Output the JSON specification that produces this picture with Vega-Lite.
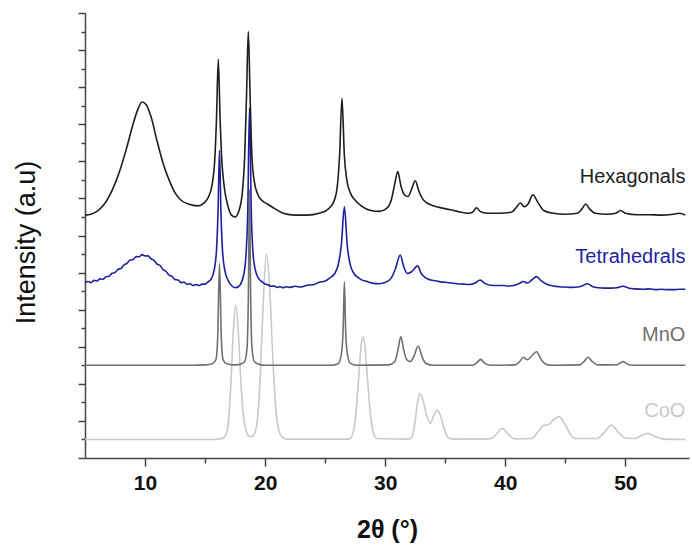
{
  "$schema": "https://vega.github.io/schema/vega-lite/v6.json",
  "width": 604,
  "height": 445,
  "autosize": {"type": "none"},
  "padding": {"left": 85, "top": 13, "right": 3, "bottom": 87},
  "config": {"view": {"stroke": null}, "font": "Liberation Sans"},
  "datasets": {
    "xrd": [
      {"s":"CoO","t":5.0,"i":1.0},{"s":"CoO","t":15.5,"i":1.0},{"s":"CoO","t":16.3,"i":1.03},{"s":"CoO","t":16.7,"i":1.2},{"s":"CoO","t":16.95,"i":2.0},{"s":"CoO","t":17.15,"i":4.0},{"s":"CoO","t":17.35,"i":6.8},{"s":"CoO","t":17.55,"i":8.25},{"s":"CoO","t":17.75,"i":7.0},{"s":"CoO","t":17.95,"i":4.5},{"s":"CoO","t":18.15,"i":2.5},{"s":"CoO","t":18.4,"i":1.5},{"s":"CoO","t":18.65,"i":1.18},{"s":"CoO","t":18.85,"i":1.15},{"s":"CoO","t":19.1,"i":1.3},{"s":"CoO","t":19.35,"i":2.0},{"s":"CoO","t":19.6,"i":4.5},{"s":"CoO","t":19.85,"i":8.5},{"s":"CoO","t":20.1,"i":11.0},{"s":"CoO","t":20.35,"i":9.5},{"s":"CoO","t":20.6,"i":6.0},{"s":"CoO","t":20.85,"i":3.0},{"s":"CoO","t":21.1,"i":1.6},{"s":"CoO","t":21.4,"i":1.15},{"s":"CoO","t":21.8,"i":1.02},{"s":"CoO","t":27.0,"i":1.02},{"s":"CoO","t":27.3,"i":1.3},{"s":"CoO","t":27.55,"i":2.3},{"s":"CoO","t":27.8,"i":4.4},{"s":"CoO","t":28.0,"i":6.1},{"s":"CoO","t":28.15,"i":6.54},{"s":"CoO","t":28.3,"i":6.1},{"s":"CoO","t":28.5,"i":4.5},{"s":"CoO","t":28.75,"i":2.5},{"s":"CoO","t":29.0,"i":1.4},{"s":"CoO","t":29.3,"i":1.05},{"s":"CoO","t":31.9,"i":1.02},{"s":"CoO","t":32.2,"i":1.1},{"s":"CoO","t":32.45,"i":1.8},{"s":"CoO","t":32.7,"i":3.0},{"s":"CoO","t":32.9,"i":3.49},{"s":"CoO","t":33.15,"i":3.1},{"s":"CoO","t":33.45,"i":2.3},{"s":"CoO","t":33.75,"i":1.87},{"s":"CoO","t":34.05,"i":2.3},{"s":"CoO","t":34.35,"i":2.59},{"s":"CoO","t":34.65,"i":2.2},{"s":"CoO","t":34.95,"i":1.5},{"s":"CoO","t":35.25,"i":1.1},{"s":"CoO","t":35.6,"i":1.02},{"s":"CoO","t":38.6,"i":1.03},{"s":"CoO","t":39.2,"i":1.25},{"s":"CoO","t":39.75,"i":1.6},{"s":"CoO","t":40.3,"i":1.25},{"s":"CoO","t":40.8,"i":1.03},{"s":"CoO","t":42.2,"i":1.05},{"s":"CoO","t":42.7,"i":1.4},{"s":"CoO","t":43.2,"i":1.75},{"s":"CoO","t":43.6,"i":1.8},{"s":"CoO","t":44.0,"i":2.05},{"s":"CoO","t":44.45,"i":2.23},{"s":"CoO","t":44.9,"i":1.9},{"s":"CoO","t":45.4,"i":1.3},{"s":"CoO","t":45.9,"i":1.05},{"s":"CoO","t":47.6,"i":1.05},{"s":"CoO","t":48.2,"i":1.35},{"s":"CoO","t":48.85,"i":1.78},{"s":"CoO","t":49.4,"i":1.4},{"s":"CoO","t":50.0,"i":1.08},{"s":"CoO","t":50.8,"i":1.05},{"s":"CoO","t":51.3,"i":1.2},{"s":"CoO","t":51.9,"i":1.33},{"s":"CoO","t":52.5,"i":1.15},{"s":"CoO","t":53.2,"i":1.02},{"s":"CoO","t":55.0,"i":1.0},

      {"s":"MnO","t":5.0,"i":5.0},{"s":"MnO","t":14.0,"i":5.0},{"s":"MnO","t":15.0,"i":5.02},{"s":"MnO","t":15.6,"i":5.08},{"s":"MnO","t":15.9,"i":5.3},{"s":"MnO","t":16.05,"i":6.5},{"s":"MnO","t":16.2,"i":10.5},{"s":"MnO","t":16.35,"i":6.5},{"s":"MnO","t":16.5,"i":5.3},{"s":"MnO","t":16.8,"i":5.08},{"s":"MnO","t":17.3,"i":5.02},{"s":"MnO","t":17.9,"i":5.05},{"s":"MnO","t":18.3,"i":5.2},{"s":"MnO","t":18.5,"i":6.0},{"s":"MnO","t":18.6,"i":8.5},{"s":"MnO","t":18.7,"i":14.5},{"s":"MnO","t":18.8,"i":8.5},{"s":"MnO","t":18.9,"i":6.0},{"s":"MnO","t":19.1,"i":5.2},{"s":"MnO","t":19.5,"i":5.05},{"s":"MnO","t":20.0,"i":5.0},{"s":"MnO","t":25.5,"i":5.0},{"s":"MnO","t":26.1,"i":5.1},{"s":"MnO","t":26.35,"i":5.6},{"s":"MnO","t":26.5,"i":7.0},{"s":"MnO","t":26.6,"i":9.5},{"s":"MnO","t":26.7,"i":7.0},{"s":"MnO","t":26.85,"i":5.6},{"s":"MnO","t":27.1,"i":5.1},{"s":"MnO","t":27.6,"i":5.0},{"s":"MnO","t":30.3,"i":5.02},{"s":"MnO","t":30.8,"i":5.2},{"s":"MnO","t":31.05,"i":5.8},{"s":"MnO","t":31.3,"i":6.54},{"s":"MnO","t":31.55,"i":5.8},{"s":"MnO","t":31.8,"i":5.3},{"s":"MnO","t":32.1,"i":5.2},{"s":"MnO","t":32.4,"i":5.5},{"s":"MnO","t":32.75,"i":6.04},{"s":"MnO","t":33.1,"i":5.4},{"s":"MnO","t":33.4,"i":5.1},{"s":"MnO","t":34.0,"i":5.0},{"s":"MnO","t":37.3,"i":5.0},{"s":"MnO","t":37.65,"i":5.15},{"s":"MnO","t":37.95,"i":5.32},{"s":"MnO","t":38.3,"i":5.1},{"s":"MnO","t":38.8,"i":5.0},{"s":"MnO","t":40.8,"i":5.02},{"s":"MnO","t":41.2,"i":5.2},{"s":"MnO","t":41.5,"i":5.43},{"s":"MnO","t":41.85,"i":5.3},{"s":"MnO","t":42.2,"i":5.5},{"s":"MnO","t":42.6,"i":5.73},{"s":"MnO","t":43.0,"i":5.3},{"s":"MnO","t":43.4,"i":5.05},{"s":"MnO","t":44.0,"i":5.0},{"s":"MnO","t":46.2,"i":5.02},{"s":"MnO","t":46.55,"i":5.2},{"s":"MnO","t":46.9,"i":5.43},{"s":"MnO","t":47.25,"i":5.2},{"s":"MnO","t":47.7,"i":5.02},{"s":"MnO","t":49.3,"i":5.03},{"s":"MnO","t":49.8,"i":5.2},{"s":"MnO","t":50.3,"i":5.03},{"s":"MnO","t":51.0,"i":5.0},{"s":"MnO","t":55.0,"i":5.0},

      {"s":"Tetrahedrals","t":5.0,"i":9.45},{"s":"Tetrahedrals","t":5.25,"i":9.52},{"s":"Tetrahedrals","t":5.5,"i":9.46},{"s":"Tetrahedrals","t":5.75,"i":9.58},{"s":"Tetrahedrals","t":6.0,"i":9.55},{"s":"Tetrahedrals","t":6.25,"i":9.66},{"s":"Tetrahedrals","t":6.5,"i":9.64},{"s":"Tetrahedrals","t":6.75,"i":9.78},{"s":"Tetrahedrals","t":7.0,"i":9.8},{"s":"Tetrahedrals","t":7.25,"i":9.96},{"s":"Tetrahedrals","t":7.5,"i":10.0},{"s":"Tetrahedrals","t":7.75,"i":10.18},{"s":"Tetrahedrals","t":8.0,"i":10.22},{"s":"Tetrahedrals","t":8.25,"i":10.42},{"s":"Tetrahedrals","t":8.5,"i":10.5},{"s":"Tetrahedrals","t":8.75,"i":10.68},{"s":"Tetrahedrals","t":9.0,"i":10.7},{"s":"Tetrahedrals","t":9.25,"i":10.86},{"s":"Tetrahedrals","t":9.5,"i":10.85},{"s":"Tetrahedrals","t":9.75,"i":10.97},{"s":"Tetrahedrals","t":10.0,"i":10.9},{"s":"Tetrahedrals","t":10.25,"i":10.9},{"s":"Tetrahedrals","t":10.5,"i":10.74},{"s":"Tetrahedrals","t":10.75,"i":10.66},{"s":"Tetrahedrals","t":11.0,"i":10.46},{"s":"Tetrahedrals","t":11.25,"i":10.38},{"s":"Tetrahedrals","t":11.5,"i":10.16},{"s":"Tetrahedrals","t":11.75,"i":10.06},{"s":"Tetrahedrals","t":12.0,"i":9.86},{"s":"Tetrahedrals","t":12.25,"i":9.8},{"s":"Tetrahedrals","t":12.5,"i":9.62},{"s":"Tetrahedrals","t":12.75,"i":9.6},{"s":"Tetrahedrals","t":13.0,"i":9.46},{"s":"Tetrahedrals","t":13.25,"i":9.48},{"s":"Tetrahedrals","t":13.5,"i":9.36},{"s":"Tetrahedrals","t":13.75,"i":9.4},{"s":"Tetrahedrals","t":14.0,"i":9.3},{"s":"Tetrahedrals","t":14.25,"i":9.36},{"s":"Tetrahedrals","t":14.5,"i":9.3},{"s":"Tetrahedrals","t":14.75,"i":9.38},{"s":"Tetrahedrals","t":15.0,"i":9.38},{"s":"Tetrahedrals","t":15.25,"i":9.5},{"s":"Tetrahedrals","t":15.5,"i":9.65},{"s":"Tetrahedrals","t":15.75,"i":10.1},{"s":"Tetrahedrals","t":15.95,"i":11.2},{"s":"Tetrahedrals","t":16.08,"i":13.3},{"s":"Tetrahedrals","t":16.2,"i":16.6},{"s":"Tetrahedrals","t":16.32,"i":13.3},{"s":"Tetrahedrals","t":16.45,"i":11.2},{"s":"Tetrahedrals","t":16.65,"i":10.1},{"s":"Tetrahedrals","t":16.9,"i":9.6},{"s":"Tetrahedrals","t":17.2,"i":9.3},{"s":"Tetrahedrals","t":17.5,"i":9.18},{"s":"Tetrahedrals","t":17.8,"i":9.25},{"s":"Tetrahedrals","t":18.1,"i":9.6},{"s":"Tetrahedrals","t":18.35,"i":10.5},{"s":"Tetrahedrals","t":18.55,"i":13.2},{"s":"Tetrahedrals","t":18.7,"i":18.9},{"s":"Tetrahedrals","t":18.85,"i":13.2},{"s":"Tetrahedrals","t":19.0,"i":11.0},{"s":"Tetrahedrals","t":19.2,"i":10.1},{"s":"Tetrahedrals","t":19.5,"i":9.65},{"s":"Tetrahedrals","t":19.75,"i":9.5},{"s":"Tetrahedrals","t":20.0,"i":9.38},{"s":"Tetrahedrals","t":20.25,"i":9.34},{"s":"Tetrahedrals","t":20.5,"i":9.26},{"s":"Tetrahedrals","t":20.75,"i":9.28},{"s":"Tetrahedrals","t":21.0,"i":9.2},{"s":"Tetrahedrals","t":21.25,"i":9.24},{"s":"Tetrahedrals","t":21.5,"i":9.18},{"s":"Tetrahedrals","t":21.75,"i":9.24},{"s":"Tetrahedrals","t":22.0,"i":9.2},{"s":"Tetrahedrals","t":22.5,"i":9.26},{"s":"Tetrahedrals","t":23.0,"i":9.22},{"s":"Tetrahedrals","t":23.5,"i":9.32},{"s":"Tetrahedrals","t":24.0,"i":9.34},{"s":"Tetrahedrals","t":24.5,"i":9.48},{"s":"Tetrahedrals","t":25.0,"i":9.55},{"s":"Tetrahedrals","t":25.4,"i":9.72},{"s":"Tetrahedrals","t":25.8,"i":9.95},{"s":"Tetrahedrals","t":26.1,"i":10.45},{"s":"Tetrahedrals","t":26.35,"i":11.5},{"s":"Tetrahedrals","t":26.6,"i":13.55},{"s":"Tetrahedrals","t":26.85,"i":11.4},{"s":"Tetrahedrals","t":27.1,"i":10.4},{"s":"Tetrahedrals","t":27.4,"i":9.95},{"s":"Tetrahedrals","t":27.7,"i":9.75},{"s":"Tetrahedrals","t":28.0,"i":9.62},{"s":"Tetrahedrals","t":28.5,"i":9.52},{"s":"Tetrahedrals","t":29.0,"i":9.42},{"s":"Tetrahedrals","t":29.5,"i":9.4},{"s":"Tetrahedrals","t":30.0,"i":9.46},{"s":"Tetrahedrals","t":30.5,"i":9.7},{"s":"Tetrahedrals","t":30.85,"i":10.2},{"s":"Tetrahedrals","t":31.25,"i":10.95},{"s":"Tetrahedrals","t":31.55,"i":10.3},{"s":"Tetrahedrals","t":31.85,"i":9.95},{"s":"Tetrahedrals","t":32.2,"i":10.05},{"s":"Tetrahedrals","t":32.7,"i":10.36},{"s":"Tetrahedrals","t":33.0,"i":9.95},{"s":"Tetrahedrals","t":33.4,"i":9.7},{"s":"Tetrahedrals","t":33.8,"i":9.6},{"s":"Tetrahedrals","t":34.2,"i":9.56},{"s":"Tetrahedrals","t":34.6,"i":9.5},{"s":"Tetrahedrals","t":35.0,"i":9.48},{"s":"Tetrahedrals","t":35.5,"i":9.44},{"s":"Tetrahedrals","t":36.0,"i":9.4},{"s":"Tetrahedrals","t":36.5,"i":9.38},{"s":"Tetrahedrals","t":37.0,"i":9.36},{"s":"Tetrahedrals","t":37.5,"i":9.44},{"s":"Tetrahedrals","t":37.9,"i":9.6},{"s":"Tetrahedrals","t":38.3,"i":9.42},{"s":"Tetrahedrals","t":38.8,"i":9.32},{"s":"Tetrahedrals","t":39.3,"i":9.3},{"s":"Tetrahedrals","t":39.8,"i":9.3},{"s":"Tetrahedrals","t":40.3,"i":9.28},{"s":"Tetrahedrals","t":40.8,"i":9.32},{"s":"Tetrahedrals","t":41.2,"i":9.42},{"s":"Tetrahedrals","t":41.5,"i":9.52},{"s":"Tetrahedrals","t":41.85,"i":9.44},{"s":"Tetrahedrals","t":42.2,"i":9.6},{"s":"Tetrahedrals","t":42.6,"i":9.78},{"s":"Tetrahedrals","t":43.0,"i":9.55},{"s":"Tetrahedrals","t":43.5,"i":9.36},{"s":"Tetrahedrals","t":44.0,"i":9.28},{"s":"Tetrahedrals","t":44.5,"i":9.24},{"s":"Tetrahedrals","t":45.0,"i":9.22},{"s":"Tetrahedrals","t":45.5,"i":9.2},{"s":"Tetrahedrals","t":46.0,"i":9.22},{"s":"Tetrahedrals","t":46.4,"i":9.28},{"s":"Tetrahedrals","t":46.85,"i":9.4},{"s":"Tetrahedrals","t":47.3,"i":9.24},{"s":"Tetrahedrals","t":47.8,"i":9.18},{"s":"Tetrahedrals","t":48.3,"i":9.16},{"s":"Tetrahedrals","t":48.8,"i":9.16},{"s":"Tetrahedrals","t":49.3,"i":9.18},{"s":"Tetrahedrals","t":49.8,"i":9.26},{"s":"Tetrahedrals","t":50.3,"i":9.16},{"s":"Tetrahedrals","t":50.8,"i":9.12},{"s":"Tetrahedrals","t":51.5,"i":9.1},{"s":"Tetrahedrals","t":52.0,"i":9.12},{"s":"Tetrahedrals","t":52.5,"i":9.08},{"s":"Tetrahedrals","t":53.0,"i":9.1},{"s":"Tetrahedrals","t":53.5,"i":9.08},{"s":"Tetrahedrals","t":54.0,"i":9.08},{"s":"Tetrahedrals","t":54.5,"i":9.1},{"s":"Tetrahedrals","t":55.0,"i":9.1},

      {"s":"Hexagonals","t":5.0,"i":13.1},{"s":"Hexagonals","t":5.5,"i":13.15},{"s":"Hexagonals","t":6.0,"i":13.3},{"s":"Hexagonals","t":6.5,"i":13.6},{"s":"Hexagonals","t":7.0,"i":14.1},{"s":"Hexagonals","t":7.5,"i":14.8},{"s":"Hexagonals","t":8.0,"i":15.7},{"s":"Hexagonals","t":8.5,"i":16.8},{"s":"Hexagonals","t":9.0,"i":18.0},{"s":"Hexagonals","t":9.4,"i":18.8},{"s":"Hexagonals","t":9.75,"i":19.2},{"s":"Hexagonals","t":10.1,"i":19.05},{"s":"Hexagonals","t":10.5,"i":18.4},{"s":"Hexagonals","t":11.0,"i":17.1},{"s":"Hexagonals","t":11.5,"i":15.9},{"s":"Hexagonals","t":12.0,"i":15.0},{"s":"Hexagonals","t":12.5,"i":14.3},{"s":"Hexagonals","t":13.0,"i":13.9},{"s":"Hexagonals","t":13.6,"i":13.7},{"s":"Hexagonals","t":14.4,"i":13.6},{"s":"Hexagonals","t":14.9,"i":13.75},{"s":"Hexagonals","t":15.3,"i":14.1},{"s":"Hexagonals","t":15.6,"i":14.8},{"s":"Hexagonals","t":15.8,"i":16.0},{"s":"Hexagonals","t":15.95,"i":18.3},{"s":"Hexagonals","t":16.1,"i":21.5},{"s":"Hexagonals","t":16.25,"i":18.3},{"s":"Hexagonals","t":16.4,"i":16.0},{"s":"Hexagonals","t":16.6,"i":14.6},{"s":"Hexagonals","t":16.9,"i":13.6},{"s":"Hexagonals","t":17.2,"i":13.1},{"s":"Hexagonals","t":17.5,"i":13.0},{"s":"Hexagonals","t":17.8,"i":13.3},{"s":"Hexagonals","t":18.1,"i":14.3},{"s":"Hexagonals","t":18.3,"i":16.3},{"s":"Hexagonals","t":18.45,"i":19.5},{"s":"Hexagonals","t":18.6,"i":23.0},{"s":"Hexagonals","t":18.75,"i":19.5},{"s":"Hexagonals","t":18.9,"i":16.3},{"s":"Hexagonals","t":19.1,"i":14.9},{"s":"Hexagonals","t":19.4,"i":14.2},{"s":"Hexagonals","t":19.8,"i":13.85},{"s":"Hexagonals","t":20.2,"i":13.7},{"s":"Hexagonals","t":20.8,"i":13.45},{"s":"Hexagonals","t":21.5,"i":13.2},{"s":"Hexagonals","t":22.5,"i":13.1},{"s":"Hexagonals","t":23.5,"i":13.1},{"s":"Hexagonals","t":24.5,"i":13.2},{"s":"Hexagonals","t":25.2,"i":13.4},{"s":"Hexagonals","t":25.7,"i":13.8},{"s":"Hexagonals","t":26.0,"i":14.6},{"s":"Hexagonals","t":26.2,"i":16.3},{"s":"Hexagonals","t":26.4,"i":19.4},{"s":"Hexagonals","t":26.6,"i":16.3},{"s":"Hexagonals","t":26.8,"i":15.0},{"s":"Hexagonals","t":27.1,"i":14.3},{"s":"Hexagonals","t":27.5,"i":13.9},{"s":"Hexagonals","t":28.0,"i":13.6},{"s":"Hexagonals","t":28.8,"i":13.35},{"s":"Hexagonals","t":29.5,"i":13.3},{"s":"Hexagonals","t":30.1,"i":13.45},{"s":"Hexagonals","t":30.5,"i":13.9},{"s":"Hexagonals","t":30.8,"i":14.8},{"s":"Hexagonals","t":31.05,"i":15.45},{"s":"Hexagonals","t":31.3,"i":14.7},{"s":"Hexagonals","t":31.6,"i":14.2},{"s":"Hexagonals","t":31.9,"i":14.1},{"s":"Hexagonals","t":32.2,"i":14.5},{"s":"Hexagonals","t":32.5,"i":14.95},{"s":"Hexagonals","t":32.8,"i":14.4},{"s":"Hexagonals","t":33.2,"i":13.9},{"s":"Hexagonals","t":34.0,"i":13.6},{"s":"Hexagonals","t":35.0,"i":13.45},{"s":"Hexagonals","t":36.0,"i":13.3},{"s":"Hexagonals","t":37.0,"i":13.2},{"s":"Hexagonals","t":37.35,"i":13.3},{"s":"Hexagonals","t":37.6,"i":13.5},{"s":"Hexagonals","t":37.9,"i":13.3},{"s":"Hexagonals","t":38.5,"i":13.2},{"s":"Hexagonals","t":39.5,"i":13.2},{"s":"Hexagonals","t":40.5,"i":13.25},{"s":"Hexagonals","t":40.9,"i":13.5},{"s":"Hexagonals","t":41.25,"i":13.75},{"s":"Hexagonals","t":41.6,"i":13.55},{"s":"Hexagonals","t":41.9,"i":13.7},{"s":"Hexagonals","t":42.3,"i":14.2},{"s":"Hexagonals","t":42.7,"i":13.8},{"s":"Hexagonals","t":43.2,"i":13.35},{"s":"Hexagonals","t":44.0,"i":13.2},{"s":"Hexagonals","t":45.0,"i":13.15},{"s":"Hexagonals","t":46.0,"i":13.2},{"s":"Hexagonals","t":46.4,"i":13.45},{"s":"Hexagonals","t":46.7,"i":13.7},{"s":"Hexagonals","t":47.0,"i":13.45},{"s":"Hexagonals","t":47.5,"i":13.2},{"s":"Hexagonals","t":48.5,"i":13.15},{"s":"Hexagonals","t":49.2,"i":13.2},{"s":"Hexagonals","t":49.6,"i":13.35},{"s":"Hexagonals","t":50.0,"i":13.2},{"s":"Hexagonals","t":51.0,"i":13.12},{"s":"Hexagonals","t":52.0,"i":13.12},{"s":"Hexagonals","t":53.0,"i":13.1},{"s":"Hexagonals","t":54.0,"i":13.15},{"s":"Hexagonals","t":54.5,"i":13.2},{"s":"Hexagonals","t":55.0,"i":13.1}
    ],
    "labels": [
      {"s":"Hexagonals","t":55.0,"i":14.85,"label":"Hexagonals"},
      {"s":"Tetrahedrals","t":55.0,"i":10.5,"label":"Tetrahedrals"},
      {"s":"MnO","t":55.0,"i":6.33,"label":"MnO"},
      {"s":"CoO","t":55.0,"i":2.23,"label":"CoO"}
    ]
  },
  "layer": [
    {
      "data": {"name": "xrd"},
      "mark": {"type": "line", "interpolate": "monotone"},
      "encoding": {
        "x": {"field": "t", "type": "quantitative",
          "scale": {"domain": [5, 55.3], "nice": false, "zero": false},
          "axis": {"orient": "bottom", "values": [10, 20, 30, 40, 50], "title": "2θ (°)",
            "titleFontSize": 25, "titleFontWeight": "bold", "titleColor": "#111", "titlePadding": 24,
            "labelFontSize": 21, "labelFontWeight": "bold", "labelColor": "#111", "labelPadding": 6,
            "tickSize": 8, "tickWidth": 1.5, "tickColor": "#444", "domainColor": "#444", "domainWidth": 1.5, "grid": false}},
        "y": {"field": "i", "type": "quantitative",
          "scale": {"domain": [0, 24], "nice": false, "zero": false},
          "axis": {"orient": "left", "values": [0, 2, 4, 6, 8, 10, 12, 14, 16, 18, 20, 22, 24], "labels": false,
            "title": "Intensity (a.u)", "titleFontSize": 27, "titleFontWeight": "normal", "titleColor": "#111",
            "titlePadding": 37, "titleY": 229,
            "tickSize": 7, "tickWidth": 1.5, "tickColor": "#444", "domainColor": "#444", "domainWidth": 1.5, "grid": false}},
        "color": {"field": "s", "type": "nominal",
          "scale": {"domain": ["CoO", "MnO", "Tetrahedrals", "Hexagonals"], "range": ["#c9c9c9", "#707070", "#1f1f9e", "#1e1e1e"]},
          "legend": null},
        "strokeWidth": {"field": "s", "type": "nominal",
          "scale": {"domain": ["CoO", "MnO", "Tetrahedrals", "Hexagonals"], "range": [1.6, 1.6, 2.3, 1.8]},
          "legend": null}
      }
    },
    {
      "data": {"name": "labels"},
      "mark": {"type": "text", "align": "right", "baseline": "alphabetic", "fontSize": 20},
      "encoding": {
        "x": {"field": "t", "type": "quantitative",
          "axis": {"orient": "bottom", "values": [15, 25, 35, 45], "labels": false, "title": null,
            "tickSize": 5, "tickWidth": 1.5, "tickColor": "#444", "domain": false, "grid": false}},
        "y": {"field": "i", "type": "quantitative",
          "axis": {"orient": "left", "values": [1, 3, 5, 7, 9, 11, 13, 15, 17, 19, 21, 23], "labels": false, "title": null,
            "tickSize": 4, "tickWidth": 1.5, "tickColor": "#444", "domain": false, "grid": false}},
        "text": {"field": "label"},
        "color": {"field": "s", "type": "nominal", "legend": null}
      }
    }
  ],
  "resolve": {"axis": {"x": "independent", "y": "independent"}}
}
